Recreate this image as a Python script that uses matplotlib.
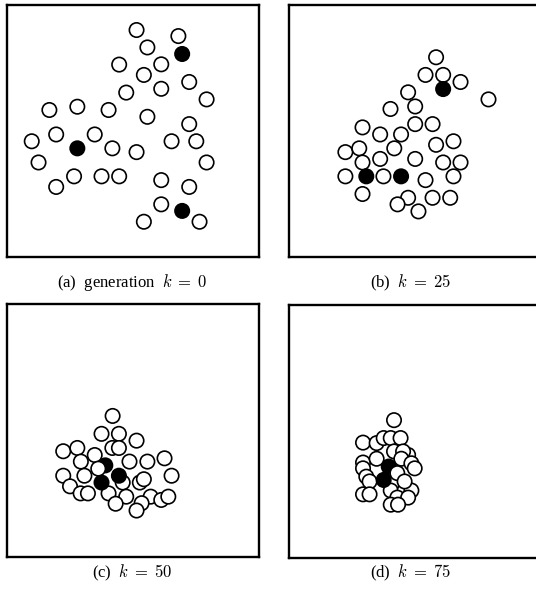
import matplotlib
matplotlib.use("Agg")
import matplotlib.pyplot as plt
from matplotlib.patches import Circle

plt.rcParams['font.family'] = ['Liberation Serif', 'DejaVu Serif']
plt.rcParams['mathtext.fontset'] = 'cm'

# positions of the individuals in each generation (box is 0..100 x 0..100)
# filled = 1 marks the black (best) individuals, drawing order is list order
a_x = [51.3, 67.9, 55.6, 44.4, 61.1, 54.2, 72.2, 61.1, 47.2, 79.1, 16.7, 27.8,
       40.2, 55.6, 72.2, 9.7, 19.4, 34.7, 41.7, 65.2, 75.0, 51.3, 12.4, 79.1,
       26.5, 37.4, 44.4, 61.1, 19.4, 72.2, 61.1, 54.2, 76.3, 69.4, 27.8, 69.4]
a_y = [90.1, 87.7, 83.2, 76.4, 76.5, 72.3, 69.5, 66.8, 65.3, 62.6, 58.4, 59.7,
       58.4, 55.7, 52.8, 46.0, 48.7, 48.7, 43.2, 46.0, 46.0, 41.7, 37.6, 37.6,
       32.1, 32.1, 32.1, 30.6, 27.9, 27.9, 21.0, 14.1, 14.1, 80.6, 43.2, 18.4]
a_filled = [0] * 33 + [1, 1, 1]

b_x = [58.5, 54.3, 61.3, 68.2, 79.3, 47.4, 50.2, 40.4, 50.2, 57.1, 29.3, 36.3,
       44.6, 58.5, 65.4, 22.5, 28.0, 41.9, 36.3, 50.2, 29.3, 61.3, 68.2, 22.5,
       37.6, 54.3, 65.4, 29.3, 47.4, 57.1, 64.1, 43.2, 51.5, 61.3, 30.8, 44.6]
b_y = [79.3, 72.3, 72.3, 69.5, 62.6, 65.4, 59.8, 58.8, 52.8, 52.8, 51.5, 48.7,
       48.7, 44.6, 46.0, 41.7, 43.2, 43.2, 39.0, 39.0, 37.6, 37.6, 37.6, 32.1,
       32.1, 30.6, 32.1, 25.1, 23.6, 23.6, 23.6, 21.0, 18.2, 66.7, 32.1, 32.1]
b_filled = [0] * 33 + [1, 1, 1]

c_x = [41.8, 37.4, 44.3, 51.3, 22.2, 27.8, 41.7, 44.3, 34.7, 29.2, 48.5, 55.6,
       62.4, 22.2, 30.6, 65.2, 24.9, 45.8, 52.6, 54.2, 29.1, 32.0, 40.2, 47.2,
       56.9, 61.1, 63.9, 43.0, 53.3, 51.3, 38.9, 44.3, 37.4, 36.1]
c_y = [55.8, 48.7, 48.7, 46.0, 41.8, 43.1, 43.1, 43.1, 40.3, 37.7, 37.7, 37.7,
       39.0, 32.1, 32.1, 32.1, 27.9, 29.4, 29.4, 30.7, 25.1, 25.1, 25.1, 23.8,
       23.8, 22.5, 23.8, 21.0, 21.2, 18.3, 36.2, 32.1, 29.4, 34.9]
c_filled = [0] * 30 + [1, 1, 1, 0]

d_x = [41.8, 29.5, 34.9, 37.7, 40.5, 44.4, 41.8, 47.4, 45.4, 29.5, 29.5, 44.7,
       48.7, 50.0, 30.8, 32.1, 29.5, 32.1, 40.5, 46.0, 48.7, 43.1, 47.4, 40.5,
       43.4, 39.7, 37.7, 34.9, 43.1, 46.0]
d_y = [54.5, 45.6, 45.4, 47.4, 47.4, 47.4, 42.1, 40.7, 42.1, 37.7, 35.4, 39.2,
       37.4, 35.4, 32.1, 30.2, 25.1, 25.1, 26.6, 26.6, 26.6, 23.8, 23.8, 21.0,
       21.0, 36.1, 30.8, 39.2, 33.5, 30.2]
d_filled = [0] * 25 + [1, 1, 0, 0, 0]

captions = [r'(a)  generation  $k\;=\;0$', r'(b)  $k\;=\;25$',
            r'(c)  $k\;=\;50$', r'(d)  $k\;=\;75$']

panels = [(a_x, a_y, a_filled), (b_x, b_y, b_filled),
          (c_x, c_y, c_filled), (d_x, d_y, d_filled)]

fig = plt.figure(figsize=(5.36, 5.94), dpi=100)

# axes rectangles in figure fractions
w, h = 0.4701, 0.4247
rects = [[0.0136, 0.5668, w, h], [0.5386, 0.5668, w, h],
         [0.0136, 0.0628, w, h], [0.5386, 0.0612, w, h]]
cap_pos = [(0.2472, 0.5236), (0.766, 0.5236), (0.2472, 0.0354), (0.766, 0.0354)]

r = 2.85
for (px, py, pf), rect, cap, (tx, ty) in zip(panels, rects, captions, cap_pos):
    ax = fig.add_axes(rect)
    ax.set_xlim(0, 100)
    ax.set_ylim(0, 100)
    ax.set_xticks([])
    ax.set_yticks([])
    for s in ax.spines.values():
        s.set_linewidth(1.7)
    for i, (x, y, f) in enumerate(zip(px, py, pf)):
        ax.add_patch(Circle((x, y), r, facecolor='black' if f else 'white',
                            edgecolor='black', lw=1.2, zorder=2 + i * 0.01))
    fig.text(tx, ty, cap, ha='center', va='center', fontsize=12)

fig.savefig('out.png', dpi=100)
